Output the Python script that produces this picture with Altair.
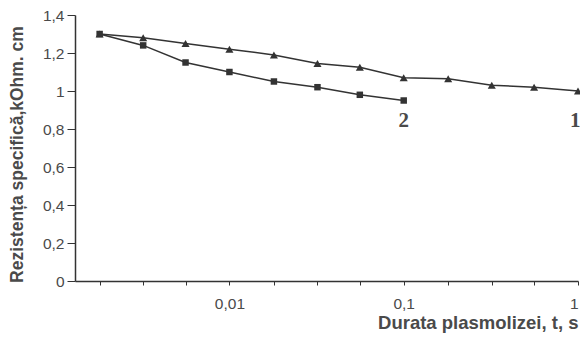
import altair as alt
import pandas as pd

# Durata plasmolizei, t, s (log axis positions, quarter decades)
t_vals = [0.0018, 0.0032, 0.0056, 0.01, 0.018, 0.032, 0.056, 0.1, 0.18, 0.32, 0.56, 1.0]
# Curve 1 (triangles)
r1 = [1.30, 1.28, 1.25, 1.22, 1.19, 1.145, 1.125, 1.07, 1.065, 1.03, 1.02, 1.00]
# Curve 2 (squares)
r2 = [1.30, 1.24, 1.15, 1.10, 1.05, 1.02, 0.98, 0.95]

x_ticks = [0.0018, 0.0032, 0.0056, 0.01, 0.018, 0.032, 0.056, 0.1, 0.18, 0.32, 0.56, 1.0]
y_ticks = [0.0, 0.2, 0.4, 0.6, 0.8, 1.0, 1.2, 1.4]

curve_names = ["1", "2"]
label_t = [0.965, 0.1]
label_r = [0.84, 0.84]

df1 = pd.DataFrame({"t": t_vals, "r": r1, "s": "1"})
df2 = pd.DataFrame({"t": t_vals[:len(r2)], "r": r2, "s": "2"})
lab = pd.DataFrame({"t": label_t, "r": label_r, "name": curve_names})

COL = "#333333"
TXT = "#4a4a4a"

xscale = alt.Scale(type="log", domain=[0.0013, 1.0], nice=False)
yscale = alt.Scale(domain=[0, 1.4], nice=False, zero=True)

xaxis = alt.Axis(
    values=x_ticks,
    labelExpr="abs(datum.value-0.01)<1e-9 ? '0,01' : abs(datum.value-0.1)<1e-9 ? '0,1' : abs(datum.value-1)<1e-9 ? '1' : ''",
    title="Durata plasmolizei, t, s",
    titleFont="Liberation Sans", titleFontWeight="bold", titleFontSize=18.5, titleColor=TXT,
    titleAnchor="end", titleAlign="right", titleBaseline="middle",
    titleX=503, titleY=41,
    labelFont="Liberation Sans", labelFontSize=15.5, labelColor=TXT,
    labelPadding=11, tickSize=4, tickColor=COL, domainColor=COL, domainWidth=1.5,
    grid=False, labelFlush=True, labelOverlap=False,
)
yaxis = alt.Axis(
    values=y_ticks,
    labelExpr="replace(format(datum.value, '.1~f'), '.', ',')",
    title="Rezistența specifică,kOhm. cm",
    titleFont="Liberation Sans", titleFontWeight="bold", titleFontSize=17.5, titleColor=TXT,
    titleAngle=270, titleAlign="center", titleBaseline="middle",
    titleX=-58, titleY=139,
    labelFont="Liberation Sans", labelFontSize=15.5, labelColor=TXT,
    labelPadding=3, tickSize=8, tickColor=COL, domainColor=COL, domainWidth=1.5,
    grid=False, labelOverlap=False, labelFlush=False,
)

base_x = alt.X("t:Q", scale=xscale, axis=xaxis)
base_y = alt.Y("r:Q", scale=yscale, axis=yaxis)

line1 = alt.Chart(df1).mark_line(color=COL, strokeWidth=1.5).encode(x=base_x, y=base_y)
pts1 = alt.Chart(df1).mark_point(shape="triangle-up", filled=True, color=COL, size=65, opacity=1).encode(x=base_x, y=base_y)
line2 = alt.Chart(df2).mark_line(color=COL, strokeWidth=1.5).encode(x=base_x, y=base_y)
pts2 = alt.Chart(df2).mark_point(shape="square", filled=True, color=COL, size=42, opacity=1).encode(x=base_x, y=base_y)
labels = alt.Chart(lab).mark_text(font="Liberation Serif", fontSize=21, fontWeight="bold", color=TXT,
                                  baseline="middle", align="center").encode(x=base_x, y=base_y, text="name:N")

chart = (line1 + line2 + pts1 + pts2 + labels).properties(
    width=503, height=266,
    autosize=alt.AutoSizeParams(type="none"),
    padding={"left": 67, "top": 7, "right": 2, "bottom": 53},
    background="white",
).configure_view(stroke=None).configure_axisY(labelOverlap=False, labelSeparation=0)

chart.save("out.html", embed_options={"renderer": "svg", "actions": False})
